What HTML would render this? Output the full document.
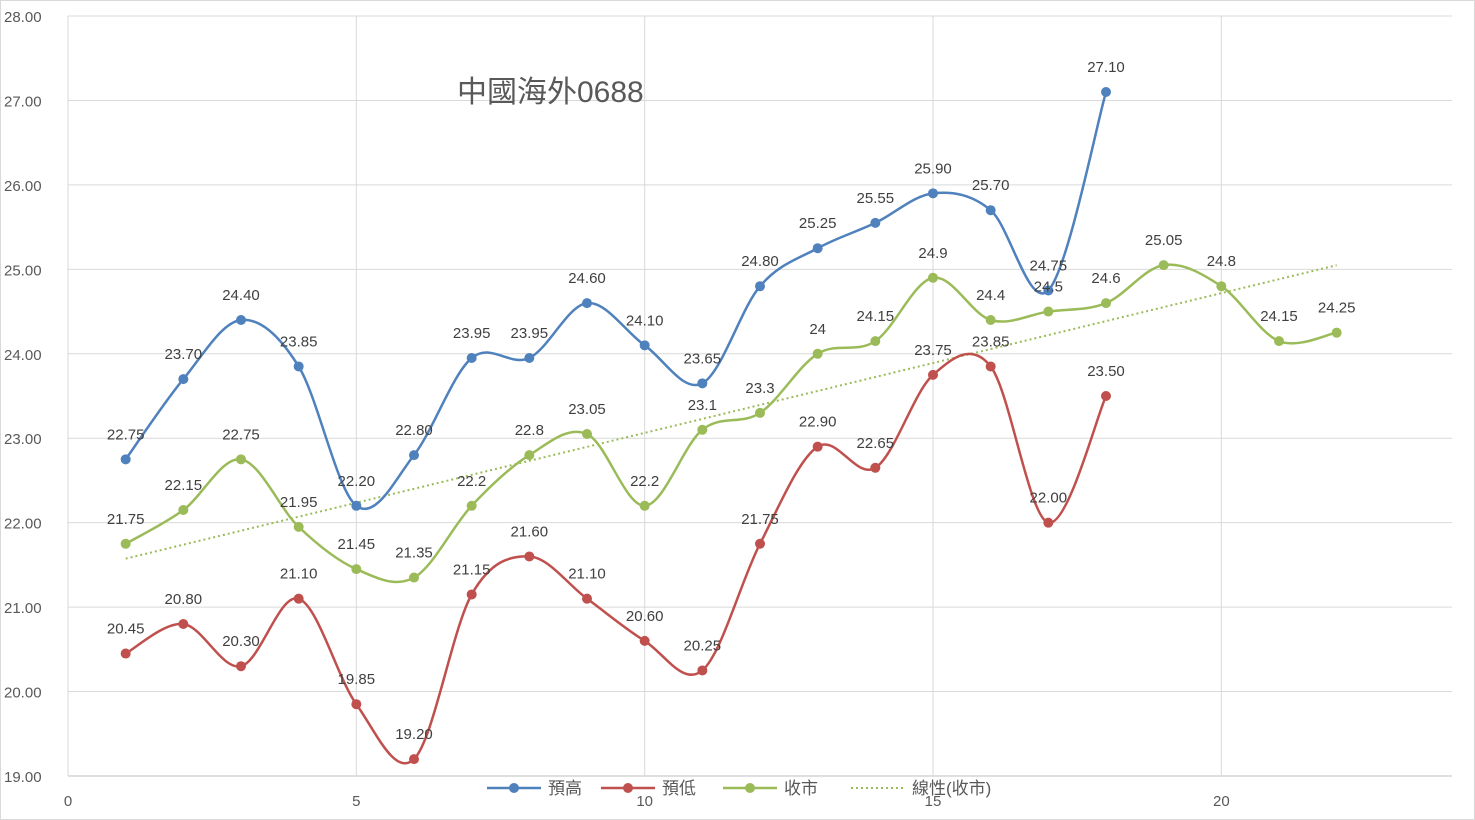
<!DOCTYPE html>
<html><head><meta charset="utf-8"><style>
body{margin:0;background:#fff;}
svg{display:block;font-family:"Liberation Sans","Noto Sans CJK TC",sans-serif;}
</style></head><body>
<svg id="c" width="1475" height="820"></svg>
<script>
const xTicks=[0,5,10,15,20];
const yTicks=[19,20,21,22,23,24,25,26,27,28];
const highX=[1,2,3,4,5,6,7,8,9,10,11,12,13,14,15,16,17,18];
const highVals=[22.75,23.70,24.40,23.85,22.20,22.80,23.95,23.95,24.60,24.10,23.65,24.80,25.25,25.55,25.90,25.70,24.75,27.10];
const lowVals=[20.45,20.80,20.30,21.10,19.85,19.20,21.15,21.60,21.10,20.60,20.25,21.75,22.90,22.65,23.75,23.85,22.00,23.50];
const closeX=[1,2,3,4,5,6,7,8,9,10,11,12,13,14,15,16,17,18,19,20,21,22];
const closeVals=[21.75,22.15,22.75,21.95,21.45,21.35,22.2,22.8,23.05,22.2,23.1,23.3,24,24.15,24.9,24.4,24.5,24.6,25.05,24.8,24.15,24.25];
const closeLabels=["21.75","22.15","22.75","21.95","21.45","21.35","22.2","22.8","23.05","22.2","23.1","23.3","24","24.15","24.9","24.4","24.5","24.6","25.05","24.8","24.15","24.25"];

const L=68,R=1452,T=16,B=776,xmin=0,xmax=24,ymin=19,ymax=28;
const sx=v=>L+(v-xmin)/(xmax-xmin)*(R-L);
const sy=v=>B-(v-ymin)/(ymax-ymin)*(B-T);
const svg=document.getElementById('c');
const NS='http://www.w3.org/2000/svg';
function mk(tag,attrs,parent){const e=document.createElementNS(NS,tag);for(const k in attrs)e.setAttribute(k,attrs[k]);(parent||svg).appendChild(e);return e;}

const frame=mk('rect',{x:0.5,y:0.5,width:1474,height:819,fill:'#fff',stroke:'#d9d9d9'});



yTicks.forEach(v=>{
  const g=mk('line',{x1:L,x2:R,y1:sy(v),y2:sy(v),stroke:v===19?'#bfbfbf':'#d9d9d9','stroke-width':1});
  
  
  const t=mk('text',{x:4,y:sy(v)+6,'font-size':15,fill:'#595959'});
  t.textContent=v.toFixed(2);
  
  
});
xTicks.forEach(v=>{
  const g=mk('line',{x1:sx(v),x2:sx(v),y1:T,y2:B,stroke:'#d9d9d9','stroke-width':1});
  
  
  const t=mk('text',{x:sx(v),y:806,'font-size':15,fill:'#595959','text-anchor':'middle'});
  t.textContent=v;
  
  
});

const title=mk('text',{x:457,y:102,'font-size':30,fill:'#595959'});
title.textContent='中國海外0688';



function smooth(xs,ys){
  const p=xs.map((x,i)=>[sx(x),sy(ys[i])]);
  let d='M'+p[0][0]+','+p[0][1];
  for(let i=0;i<p.length-1;i++){
    const p0=p[i-1]||p[i],p1=p[i],p2=p[i+1],p3=p[i+2]||p[i+1];
    const c1=[p1[0]+(p2[0]-p0[0])/6,p1[1]+(p2[1]-p0[1])/6];
    const c2=[p2[0]-(p3[0]-p1[0])/6,p2[1]-(p3[1]-p1[1])/6];
    d+=' C'+c1+' '+c2+' '+p2;
  }
  return d;
}

// trendline
const n=closeX.length;
const mx=closeX.reduce((a,b)=>a+b)/n,my=closeVals.reduce((a,b)=>a+b)/n;
let num=0,den=0;closeX.forEach((x,i)=>{num+=(x-mx)*(closeVals[i]-my);den+=(x-mx)*(x-mx);});
const slope=num/den,icpt=my-slope*mx;
const x0=closeX[0],x1=closeX[n-1];
const tr=mk('line',{x1:sx(x0),y1:sy(icpt+slope*x0),x2:sx(x1),y2:sy(icpt+slope*x1),stroke:'#9bbb59','stroke-width':2,'stroke-dasharray':'2,3'});



function series(xs,ys,labels,color,name){
  const path=mk('path',{d:smooth(xs,ys),fill:'none',stroke:color,'stroke-width':2.5});
  
  
  xs.forEach((x,i)=>{
    const c=mk('circle',{cx:sx(x),cy:sy(ys[i]),r:5,fill:color});
    
    
    const t=mk('text',{x:sx(x),y:sy(ys[i])-20,'font-size':15,fill:'#404040','text-anchor':'middle'});
    t.textContent=labels[i];
    
    
  });
}
series(highX,highVals,highVals.map(v=>v.toFixed(2)),'#4f81bd','high');
series(highX,lowVals,lowVals.map(v=>v.toFixed(2)),'#c0504d','low');
series(closeX,closeVals,closeLabels,'#9bbb59','close');

// legend
const leg=[['預高','#4f81bd',487,false],['預低','#c0504d',601,false],['收市','#9bbb59',723,false],['線性(收市)','#9bbb59',851,true]];
leg.forEach(([lab,col,x,dot])=>{
  const l=mk('line',{x1:x,x2:x+54,y1:788,y2:788,stroke:col,'stroke-width':2.5});
  if(dot){l.setAttribute('stroke-dasharray','2,3');l.setAttribute('stroke-width',2);}
  
  
  if(!dot){const c=mk('circle',{cx:x+27,cy:788,r:5,fill:col});
    
    }
  const t=mk('text',{x:x+61,y:794,'font-size':17,fill:'#595959'});
  t.textContent=lab;
  
  
});
</script>
</body></html>
